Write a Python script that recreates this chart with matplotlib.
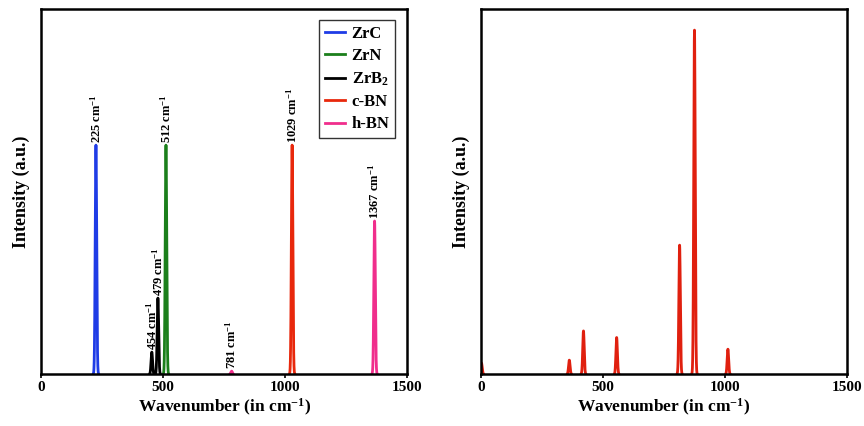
import numpy as np
import matplotlib
matplotlib.use("Agg")
import matplotlib.pyplot as plt

plt.rcParams['font.family'] = ['Liberation Serif', 'DejaVu Serif']
plt.rcParams['font.weight'] = 'bold'
plt.rcParams['mathtext.fontset'] = 'custom'
plt.rcParams['mathtext.rm'] = 'Liberation Serif:bold'
plt.rcParams['mathtext.bf'] = 'Liberation Serif:bold'
plt.rcParams['mathtext.default'] = 'bf'

# left panel: one peak list per phase
phases = ['ZrC', 'ZrN', 'ZrB$_2$', 'c-BN', 'h-BN']
phase_colors = ['#1f3ce6', '#1b7f1b', '#000000', '#e8280c', '#f02e8c']
phase_pos = [[225], [512], [454, 479], [1029], [781, 1367]]
phase_int = [[0.627], [0.627], [0.06, 0.208], [0.627], [0.008, 0.419]]

# right panel peaks
right_pos = [2, 362, 420, 556, 814, 875, 1012]
right_int = [0.03, 0.038, 0.118, 0.10, 0.353, 0.942, 0.068]

x = np.linspace(0, 1500, 6001)
sigma = 3.0


def spectrum(pos, inten):
    y = np.zeros_like(x)
    for p, h in zip(pos, inten):
        y += h * np.exp(-0.5 * ((x - p) / sigma) ** 2)
    # baseline hidden under the bottom spine
    y[y < 1e-3] = np.nan
    return y


fig = plt.figure(figsize=(8.64, 4.26), dpi=100)
ax1 = fig.add_axes([0.0475, 0.122, 0.4236, 0.857])
ax2 = fig.add_axes([0.5567, 0.122, 0.4236, 0.857])

for name, c, pos, inten in zip(phases, phase_colors, phase_pos, phase_int):
    ax1.plot(x, spectrum(pos, inten), color=c, lw=2.0, label=name)
    for p, h in zip(pos, inten):
        ax1.text(p, h + 0.006, f'{p} cm$^{{-1}}$', rotation=90, ha='center',
                 va='bottom', fontsize=9, fontweight='bold')

ax2.plot(x, spectrum(right_pos, right_int), color='#e0200f', lw=2.0)

for ax in (ax1, ax2):
    ax.set_xlim(0, 1500)
    ax.set_ylim(0, 1)
    ax.set_xticks([0, 500, 1000, 1500])
    ax.set_yticks([])
    ax.tick_params(axis='x', direction='out', length=3, width=1.2, labelsize=11, pad=2)
    for lbl in ax.get_xticklabels():
        lbl.set_fontweight('bold')
    for s in ax.spines.values():
        s.set_linewidth(1.8)
    ax.set_xlabel('Wavenumber (in cm$^{-1}$)', fontsize=12.5, fontweight='bold', labelpad=2)
    ax.set_ylabel('Intensity (a.u.)', fontsize=13, fontweight='bold', labelpad=8)

leg = ax1.legend(loc='upper right', bbox_to_anchor=(0.968, 0.97), borderaxespad=0,
                 fontsize=12, handlelength=1.2, labelspacing=0.38, fancybox=False,
                 edgecolor='black', borderpad=0.35, handletextpad=0.4)
leg.get_frame().set_linewidth(1.0)
for t in leg.get_texts():
    t.set_fontweight('bold')

fig.savefig('out.png', dpi=100)
